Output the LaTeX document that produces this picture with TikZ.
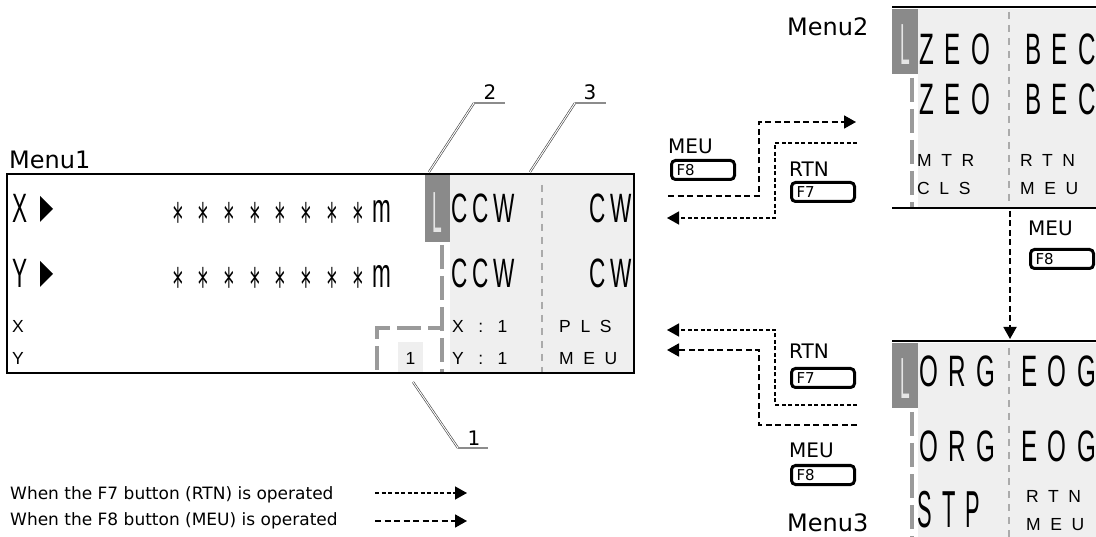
\documentclass[tikz,border=0pt]{standalone}
\usepackage{fontspec}
\setmainfont{DejaVu Sans}
\newfontfamily\lcdA[FakeStretch=0.55,LetterSpace=11.5]{Liberation Sans}
\newfontfamily\lcdB[FakeStretch=0.55,LetterSpace=24]{Liberation Sans}
\newfontfamily\lcdT[FakeStretch=0.42,LetterSpace=20]{Liberation Sans}
\newfontfamily\lcdL[FakeStretch=0.3]{Liberation Sans}
\newfontfamily\lcdS[FakeStretch=0.42]{DejaVu Sans}
\newfontfamily\lcdC[LetterSpace=55]{Liberation Sans}
\usetikzlibrary{arrows.meta,positioning}
\definecolor{lcdbg}{HTML}{EFEFEF}
\definecolor{cursorbg}{HTML}{8A8A8A}
\definecolor{barcol}{HTML}{9A9A9A}
\definecolor{sepcol}{HTML}{ABABAB}

\begin{document}
\begin{tikzpicture}[x=1pt,y=-1pt,
  menu label/.style={font=\fontsize{24}{24}\selectfont,anchor=west,inner sep=0pt},
  key label/.style={font=\fontsize{20}{20}\selectfont,anchor=west,inner sep=0pt},
  legend text/.style={font=\fontsize{17}{17}\selectfont,anchor=west,inner sep=0pt},
  num/.style={font=\fontsize{20}{20}\selectfont,inner sep=0pt},
  fkey/.style={draw,line width=3pt,rounded corners=4pt,minimum height=19pt,text width=53pt,inner xsep=5pt,inner ysep=0pt,align=left,anchor=north west,font=\fontsize{15}{15}\selectfont},
  lcd/.style={font=\fontsize{41}{41}\lcdA,anchor=base west,inner sep=0pt},
  lcd wide/.style={font=\fontsize{44}{44}\lcdB,anchor=base west,inner sep=0pt},
  lcd tall/.style={font=\fontsize{52}{52}\lcdT,anchor=base west,inner sep=0pt},
  lcd small/.style={font=\fontsize{17.5}{17.5}\lcdC,anchor=base west,inner sep=0pt},
  star/.style={font=\fontsize{46}{46}\lcdS,anchor=base,inner sep=0pt},
  cursor/.style={font=\fontsize{58}{58}\lcdL,text=black!10,anchor=base,inner sep=0pt},
  bar/.style={barcol,line width=4pt,dash pattern=on 24pt off 7pt},
  sep/.style={sepcol,line width=1.5pt,dash pattern=on 7pt off 6pt},
  rule/.style={line width=2.5pt},
  panel/.style={draw,line width=2.2pt},
  leader/.style={draw=black!75,double=white,double distance=1pt,line width=0.6pt},
  leader bar/.style={draw=black!45,line width=2.5pt},
  rtn flow/.style={-{Triangle[length=12pt,width=13pt]},line width=1.4pt,dash pattern=on 4pt off 2.5pt},
  meu flow/.style={-{Triangle[length=12pt,width=13pt]},line width=1.8pt,dash pattern=on 6pt off 3.5pt}
]
\useasboundingbox (0,0) rectangle (1096,537);
\clip (0,0) rectangle (1096,537);

% Menu1
\fill[lcdbg] (450,175) rectangle (633,372);
\fill[cursorbg] (425,175) rectangle (450,242);
\fill[lcdbg] (398,342) rectangle (423,372);
\draw[sep] (542,185) -- (542,372);
\draw[bar] (442,245) -- (442,372);
\draw[bar] (377,370) -- (377,328) -- (440,328);
\node[cursor] (m1l) at (437.5,233) {L};
\node[lcd] (m1x) at (12,223) {X};
\fill (40,196) -- (53,209) -- (40,222) -- cycle;
\node[lcd] (m1y) at (12,288) {Y};
\fill (40,261) -- (53,274) -- (40,287) -- cycle;
\foreach \i in {0,...,7} {
  \node[star] (s1\i) at (178+25.7*\i,237) {*};
  \node[star] (s2\i) at (178+25.7*\i,302) {*};
}
\node[lcd] (m1m1) at (372,223) {m};
\node[lcd] (m1m2) at (372,288) {m};
\node[lcd] (m1c1) at (451,223) {CCW};
\node[lcd,anchor=base east] (m1w1) at (632,223) {CW};
\node[lcd] (m1c2) at (451,288) {CCW};
\node[lcd,anchor=base east] (m1w2) at (632,288) {CW};
\node[lcd small] (m1sx) at (12,333) {X};
\node[lcd small] (m1sy) at (12,365) {Y};
\node[lcd small] (m1px) at (452,333) {X : 1};
\node[lcd small] (m1pls) at (559,333) {PLS};
\node[lcd small] (m1py) at (452,365) {Y : 1};
\node[lcd small] (m1meu) at (559,365) {MEU};
\node[lcd small,anchor=base] (m1one) at (410.5,365) {1};
\draw[panel] (7,174) rectangle (634,373);
\node[menu label] (m1t) at (9,160) {Menu1};

% Menu2
\fill[lcdbg] (918,9) rectangle (1096,207);
\fill[cursorbg] (892,9) rectangle (918,74);
\draw[sep] (1009,12) -- (1009,205);
\draw[bar] (912,78) -- (912,207);
\node[cursor] (m2l) at (905,65) {L};
\node[lcd wide] (m2z1) at (919,65) {ZEO};
\node[lcd wide] (m2b1) at (1025,65) {BEC};
\node[lcd wide] (m2z2) at (919,115) {ZEO};
\node[lcd wide] (m2b2) at (1025,115) {BEC};
\node[lcd small] (m2mtr) at (917,167) {MTR};
\node[lcd small] (m2rtn) at (1020,167) {RTN};
\node[lcd small] (m2cls) at (917,195) {CLS};
\node[lcd small] (m2meu) at (1020,195) {MEU};
\draw[rule] (892,7) -- (1096,7);
\draw[rule] (892,208) -- (1096,208);
\node[menu label] (m2t) at (787,27) {Menu2};

% Menu3
\fill[lcdbg] (918,343) rectangle (1096,537);
\fill[cursorbg] (892,343) rectangle (918,408);
\draw[sep] (1009,348) -- (1009,537);
\draw[bar] (912,412) -- (912,537);
\node[cursor] (m3l) at (905,399) {L};
\node[lcd wide] (m3o1) at (919,387) {ORG};
\node[lcd wide] (m3e1) at (1021,387) {EOG};
\node[lcd wide] (m3o2) at (919,461) {ORG};
\node[lcd wide] (m3e2) at (1021,461) {EOG};
\node[lcd tall] (m3stp) at (917,527) {STP};
\node[lcd small] (m3rtn) at (1026,502) {RTN};
\node[lcd small] (m3meu) at (1026,530) {MEU};
\draw[rule] (892,341) -- (1096,341);
\node[menu label] (m3t) at (787,523) {Menu3};

% buttons
\node[key label] (k1) at (668,146) {MEU};
\node[fkey] (f1) at (670,159) {F8};
\node[key label] (k2) at (789,169) {RTN};
\node[fkey] (f2) at (790,181) {F7};
\node[key label] (k3) at (789,351) {RTN};
\node[fkey] (f3) at (790,367) {F7};
\node[key label] (k4) at (789,450) {MEU};
\node[fkey] (f4) at (790,464) {F8};
\node[key label] (k5) at (1028,228) {MEU};
\node[fkey] (f5) at (1029,248) {F8};

% transitions
\coordinate (a1) at (668,196);
\coordinate (a2) at (856,122);
\draw[meu flow] (a1) -- ++(91,0) |- (a2);
\coordinate (b1) at (857,143);
\coordinate (b2) at (667,218);
\draw[rtn flow] (b1) -- ++(-82,0) |- (b2);
\coordinate (c1) at (857,405);
\coordinate (c2) at (667,330);
\draw[rtn flow] (c1) -- ++(-82,0) |- (c2);
\coordinate (d1) at (857,425);
\coordinate (d2) at (667,350);
\draw[meu flow] (d1) -- ++(-98,0) |- (d2);
\coordinate (e1) at (1010,211);
\coordinate (e2) at (1010,339);
\draw[meu flow] (e1) -- (e2);

% leaders
\node[num] (n2) at (490,92) {2};
\coordinate (p2a) at (429,172);
\coordinate (p2b) at (474,103);
\draw[leader] (p2a) -- (p2b);
\draw[leader bar] (p2b) -- ++(31,0);
\node[num] (n3) at (590,92) {3};
\coordinate (p3a) at (530,172);
\coordinate (p3b) at (575,103);
\draw[leader] (p3a) -- (p3b);
\draw[leader bar] (p3b) -- ++(31,0);
\node[num] (n1) at (474,438) {1};
\coordinate (p1a) at (413,382);
\coordinate (p1b) at (458,448);
\draw[leader] (p1a) -- (p1b);
\draw[leader bar] (p1b) -- ++(30,0);

% legend
\node[legend text] (g1) at (10,495) {When the F7 button (RTN) is operated};
\node[legend text] (g2) at (10,521) {When the F8 button (MEU) is operated};
\coordinate (g1a) at (375,493);
\coordinate (g1b) at (467,493);
\draw[rtn flow] (g1a) -- (g1b);
\coordinate (g2a) at (375,521);
\coordinate (g2b) at (467,521);
\draw[meu flow] (g2a) -- (g2b);
\end{tikzpicture}
\end{document}
